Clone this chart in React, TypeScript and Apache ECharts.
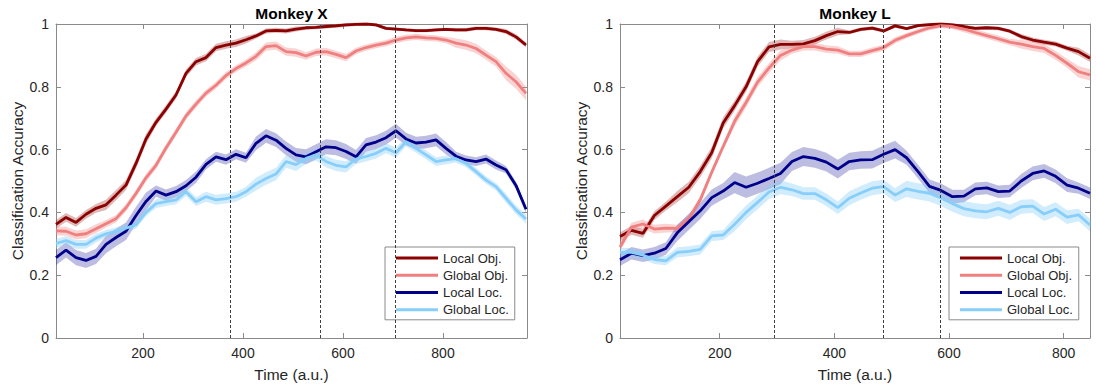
import { useEffect, useRef } from "react";
import * as echarts from "echarts";

// Time grid (a.u.) for each animal
const timeX = [26, 46, 66, 86, 106, 126, 146, 166, 186, 206, 226, 246, 266, 286, 306, 326, 346, 366, 386, 406, 426, 446, 466, 486, 506, 526, 546, 566, 586, 606, 626, 646, 666, 686, 706, 726, 746, 766, 786, 806, 826, 846, 866, 886, 906, 926, 946, 966];
const timeL = [26, 46, 66, 86, 106, 126, 146, 166, 186, 206, 226, 246, 266, 286, 306, 326, 346, 366, 386, 406, 426, 446, 466, 486, 506, 526, 546, 566, 586, 606, 626, 646, 666, 686, 706, 726, 746, 766, 786, 806, 826, 846];

// Monkey X mean decoding accuracy
const localObjX = [0.362, 0.384, 0.368, 0.394, 0.413, 0.424, 0.455, 0.487, 0.556, 0.634, 0.687, 0.729, 0.774, 0.843, 0.88, 0.893, 0.925, 0.933, 0.939, 0.95, 0.962, 0.978, 0.98, 0.978, 0.984, 0.988, 0.989, 0.992, 0.994, 0.997, 0.999, 1.0, 0.997, 0.986, 0.984, 0.981, 0.979, 0.979, 0.981, 0.983, 0.981, 0.981, 0.986, 0.986, 0.983, 0.976, 0.959, 0.933];
const globalObjX = [0.341, 0.34, 0.328, 0.332, 0.348, 0.364, 0.38, 0.415, 0.46, 0.51, 0.55, 0.605, 0.655, 0.707, 0.745, 0.78, 0.805, 0.836, 0.858, 0.876, 0.897, 0.928, 0.931, 0.912, 0.909, 0.898, 0.91, 0.912, 0.903, 0.893, 0.914, 0.925, 0.933, 0.939, 0.949, 0.956, 0.959, 0.956, 0.954, 0.949, 0.939, 0.933, 0.922, 0.901, 0.88, 0.843, 0.816, 0.779];
const localLocX = [0.256, 0.28, 0.256, 0.247, 0.26, 0.298, 0.32, 0.34, 0.39, 0.435, 0.468, 0.455, 0.466, 0.485, 0.512, 0.553, 0.577, 0.568, 0.585, 0.574, 0.62, 0.644, 0.63, 0.604, 0.583, 0.577, 0.593, 0.609, 0.606, 0.594, 0.577, 0.615, 0.624, 0.638, 0.66, 0.634, 0.621, 0.624, 0.631, 0.604, 0.579, 0.567, 0.562, 0.57, 0.551, 0.536, 0.486, 0.41];
const globalLocX = [0.301, 0.31, 0.298, 0.298, 0.318, 0.332, 0.34, 0.35, 0.36, 0.4, 0.428, 0.434, 0.44, 0.466, 0.434, 0.45, 0.44, 0.444, 0.45, 0.466, 0.49, 0.508, 0.522, 0.562, 0.552, 0.572, 0.583, 0.562, 0.55, 0.545, 0.57, 0.578, 0.588, 0.604, 0.59, 0.625, 0.604, 0.583, 0.562, 0.567, 0.571, 0.556, 0.53, 0.503, 0.482, 0.445, 0.408, 0.379];

// Monkey X standard error, one value per 100 a.u. block
const semLocalObjX = [0.014, 0.016, 0.012, 0.012, 0.008, 0.006, 0.005, 0.005, 0.006, 0.008];
const semGlobalObjX = [0.014, 0.012, 0.012, 0.011, 0.013, 0.012, 0.01, 0.01, 0.015, 0.022];
const semLocalLocX = [0.024, 0.028, 0.018, 0.016, 0.022, 0.024, 0.022, 0.02, 0.014, 0.012];
const semGlobalLocX = [0.014, 0.012, 0.014, 0.016, 0.02, 0.018, 0.016, 0.014, 0.012, 0.014];

// Monkey L mean decoding accuracy
const localObjL = [0.323, 0.343, 0.333, 0.39, 0.42, 0.45, 0.48, 0.53, 0.59, 0.685, 0.74, 0.8, 0.88, 0.927, 0.935, 0.935, 0.937, 0.947, 0.963, 0.976, 0.973, 0.983, 0.987, 0.978, 0.994, 0.985, 0.995, 0.998, 1.0, 0.997, 0.992, 0.986, 0.988, 0.986, 0.977, 0.96, 0.949, 0.942, 0.936, 0.923, 0.912, 0.891];
const globalObjL = [0.29, 0.353, 0.363, 0.347, 0.35, 0.349, 0.38, 0.44, 0.528, 0.61, 0.69, 0.75, 0.815, 0.86, 0.9, 0.917, 0.928, 0.928, 0.92, 0.917, 0.905, 0.905, 0.915, 0.925, 0.948, 0.963, 0.976, 0.988, 0.995, 0.992, 0.984, 0.973, 0.963, 0.953, 0.942, 0.936, 0.928, 0.922, 0.9, 0.875, 0.848, 0.838];
const localLocL = [0.249, 0.27, 0.262, 0.27, 0.285, 0.335, 0.37, 0.405, 0.447, 0.468, 0.495, 0.48, 0.493, 0.508, 0.524, 0.562, 0.578, 0.572, 0.56, 0.538, 0.562, 0.567, 0.568, 0.585, 0.6, 0.574, 0.53, 0.483, 0.47, 0.45, 0.452, 0.475, 0.478, 0.466, 0.468, 0.5, 0.524, 0.532, 0.515, 0.487, 0.477, 0.461];
const globalLocL = [0.273, 0.273, 0.264, 0.25, 0.246, 0.273, 0.276, 0.282, 0.325, 0.328, 0.362, 0.4, 0.432, 0.465, 0.48, 0.472, 0.46, 0.46, 0.44, 0.415, 0.445, 0.462, 0.477, 0.482, 0.455, 0.475, 0.467, 0.461, 0.446, 0.428, 0.412, 0.405, 0.402, 0.413, 0.4, 0.418, 0.42, 0.395, 0.41, 0.385, 0.392, 0.36];

// Monkey L standard error, one value per 100 a.u. block
const semLocalObjL = [0.014, 0.018, 0.016, 0.012, 0.006, 0.005, 0.006, 0.008, 0.012];
const semGlobalObjL = [0.014, 0.012, 0.016, 0.012, 0.01, 0.008, 0.01, 0.014, 0.018];
const semLocalLocL = [0.02, 0.026, 0.034, 0.03, 0.028, 0.022, 0.02, 0.022, 0.018];
const semGlobalLocL = [0.014, 0.016, 0.022, 0.02, 0.022, 0.026, 0.024, 0.022, 0.02];

// Event markers (dashed verticals)
const eventsX = [375, 555, 705];
const eventsL = [295, 485, 585];

const xTicks = [200, 400, 600, 800];
const seriesNames = ["Local Obj.", "Global Obj.", "Local Loc.", "Global Loc."];
const lineColors = ["#8b0000", "#f08080", "#00008b", "#87cefa"];
const bandColors = ["rgba(139,0,0,0.28)", "rgba(240,128,128,0.35)", "rgba(0,0,139,0.26)", "rgba(135,206,250,0.38)"];

const FONT = '"Liberation Sans", Arial, Helvetica, sans-serif';
const AXIS = "#8a8a8a";
const TEXT = "#262626";

const panels = [
  {
    title: "Monkey X",
    time: timeX,
    xMax: 968,
    events: eventsX,
    means: [localObjX, globalObjX, localLocX, globalLocX],
    sems: [semLocalObjX, semGlobalObjX, semLocalLocX, semGlobalLocX],
    grid: { left: 56, top: 24, width: 471, height: 314 },
    legendLeft: 385,
  },
  {
    title: "Monkey L",
    time: timeL,
    xMax: 846,
    events: eventsL,
    means: [localObjL, globalObjL, localLocL, globalLocL],
    sems: [semLocalObjL, semGlobalObjL, semLocalLocL, semGlobalLocL],
    grid: { left: 620, top: 24, width: 470, height: 314 },
    legendLeft: 949,
  },
];

function buildOption() {
  const grid: any[] = [];
  const xAxis: any[] = [];
  const yAxis: any[] = [];
  const series: any[] = [];
  const legend: any[] = [];
  const graphic: any[] = [];

  panels.forEach((p, pi) => {
    grid.push({ ...p.grid, containLabel: false, outerBoundsMode: "none" });
    const xBase = {
      type: "value",
      gridIndex: pi,
      min: 26,
      max: p.xMax,
      splitLine: { show: false },
      axisLine: { show: true, onZero: false, lineStyle: { color: AXIS, width: 1 } },
      axisTick: { show: true, inside: true, length: 5, customValues: xTicks, lineStyle: { color: AXIS } },
    };
    xAxis.push({
      ...xBase,
      position: "bottom",
      axisLabel: { show: true, customValues: xTicks, color: TEXT, fontSize: 14, fontFamily: FONT, margin: 8 },
      name: "Time (a.u.)",
      nameLocation: "middle",
      nameGap: 28,
      nameTextStyle: { color: TEXT, fontSize: 15.5, fontFamily: FONT },
    });
    xAxis.push({ ...xBase, position: "top", axisLabel: { show: false } });

    const yBase = {
      type: "value",
      gridIndex: pi,
      min: 0,
      max: 1,
      interval: 0.2,
      splitLine: { show: false },
      axisLine: { show: true, onZero: false, lineStyle: { color: AXIS, width: 1 } },
      axisTick: { show: true, inside: true, length: 5, lineStyle: { color: AXIS } },
    };
    yAxis.push({
      ...yBase,
      position: "left",
      axisLabel: { show: true, color: TEXT, fontSize: 14, fontFamily: FONT, margin: 7 },
      name: "Classification Accuracy",
      nameLocation: "middle",
      nameRotate: 90,
      nameGap: 31,
      nameTextStyle: { color: TEXT, fontSize: 15.5, fontFamily: FONT },
    });
    yAxis.push({ ...yBase, position: "right", axisLabel: { show: false } });

    const xi = pi * 2;
    const yi = pi * 2;

    // shaded standard-error bands, one polygon per curve
    p.means.forEach((m, si) => {
      const sem = p.sems[si];
      const band = m.map((v, i) => [p.time[i], v - sem[Math.floor(i / 5)], v + sem[Math.floor(i / 5)]]);
      const fill = bandColors[si];
      series.push({
        type: "custom",
        name: `band-${pi}-${si}`,
        xAxisIndex: xi,
        yAxisIndex: yi,
        silent: true,
        data: band,
        encode: { x: 0, y: [1, 2] },
        renderItem: (params: any, api: any) => {
          if (params.dataIndex !== 0) return null;
          const lower = band.map((d) => api.coord([d[0], d[1]]));
          const upper = band.map((d) => api.coord([d[0], d[2]])).reverse();
          return {
            type: "polygon",
            silent: true,
            shape: { points: lower.concat(upper) },
            style: { fill, stroke: "none" },
          };
        },
      });
    });

    // dashed event markers
    series.push({
      type: "line",
      name: `events-${pi}`,
      xAxisIndex: xi,
      yAxisIndex: yi,
      data: [],
      silent: true,
      markLine: {
        silent: true,
        symbol: ["none", "none"],
        label: { show: false },
        lineStyle: { type: [3, 2], color: "#404040", width: 1 },
        data: p.events.map((t) => ({ xAxis: t })),
      },
    });

    // mean curves
    p.means.forEach((m, si) => {
      series.push({
        type: "line",
        name: seriesNames[si],
        xAxisIndex: xi,
        yAxisIndex: yi,
        symbol: "none",
        showSymbol: false,
        color: lineColors[si],
        lineStyle: { color: lineColors[si], width: 2.8 },
        emphasis: { disabled: true },
        data: m.map((v, i) => [p.time[i], v]),
      });
    });

    legend.push({
      data: seriesNames,
      orient: "vertical",
      left: p.legendLeft,
      top: 247,
      itemWidth: 42,
      itemHeight: 14,
      itemGap: 4.2,
      padding: [4.6, 6, 3.6, 9.5],
      borderColor: AXIS,
      borderWidth: 1,
      borderRadius: 0,
      backgroundColor: "#ffffff",
      selectedMode: false,
      itemStyle: { color: "rgba(0,0,0,0)", borderColor: "rgba(0,0,0,0)", borderWidth: 0, opacity: 0 },
      lineStyle: { width: 3 },
      textStyle: { color: TEXT, fontSize: 13, fontFamily: FONT },
    });

    graphic.push({
      type: "text",
      x: p.grid.left + p.grid.width / 2,
      y: 13,
      style: {
        text: p.title,
        align: "center",
        verticalAlign: "middle",
        font: `bold 15.5px ${FONT}`,
        fill: "#000000",
      },
    });
  });

  return {
    animation: false,
    backgroundColor: "#ffffff",
    textStyle: { fontFamily: FONT },
    grid,
    xAxis,
    yAxis,
    legend,
    graphic,
    series,
  };
}

export default function App() {
  const ref = useRef<HTMLDivElement>(null);
  useEffect(() => {
    if (!ref.current) return;
    const chart = echarts.init(ref.current, undefined, { renderer: "svg" });
    chart.setOption(buildOption() as any);
    return () => chart.dispose();
  }, []);
  return (
    <div
      ref={ref}
      style={{ position: "absolute", left: 0, top: 0, width: 1096, height: 387, background: "#fff" }}
    />
  );
}
